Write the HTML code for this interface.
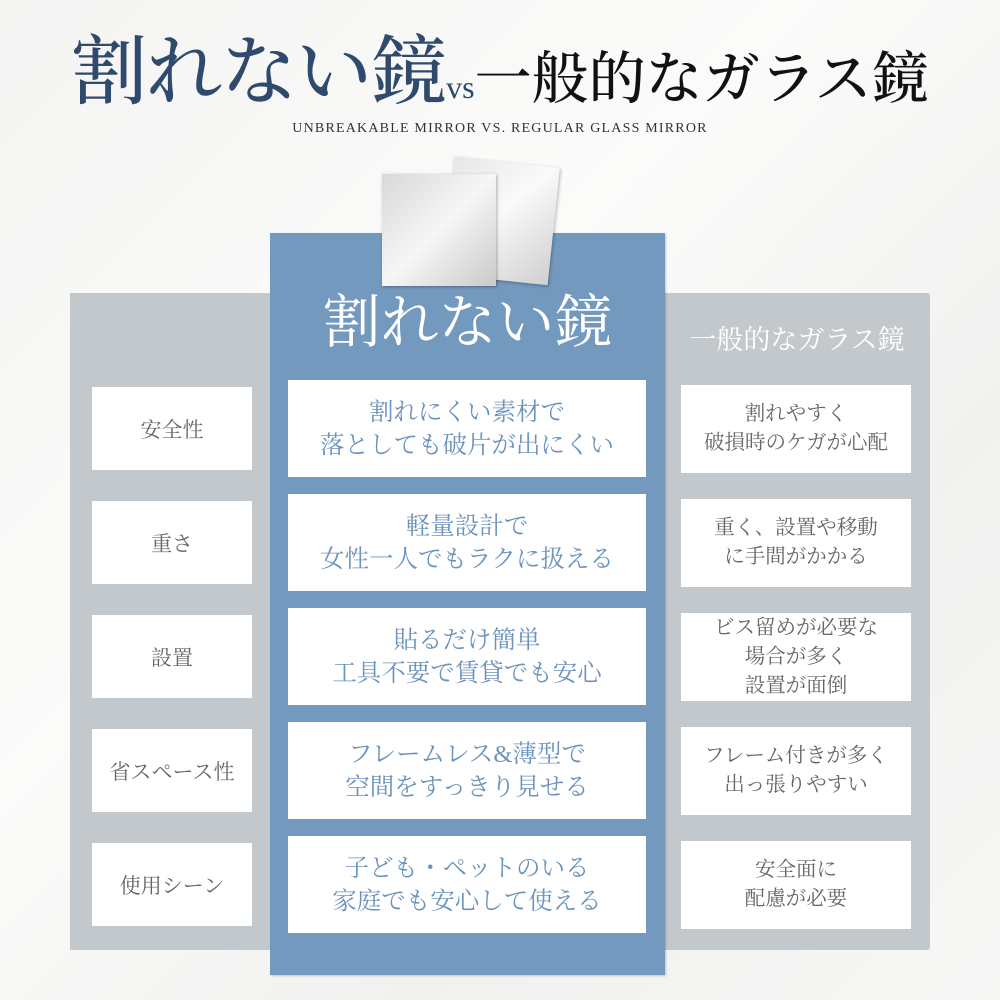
<!DOCTYPE html>
<html><head><meta charset="utf-8"><style>
*{margin:0;padding:0;box-sizing:border-box}
body{width:1000px;height:1000px;position:relative;overflow:hidden;background:linear-gradient(135deg,#f4f4f3,#fbfbfa 40%,#f1f1f0 70%,#f7f7f6);font-family:"Liberation Serif","Noto Serif CJK SC",serif}
.a{position:absolute}
.t{display:flex;align-items:center;justify-content:center;text-align:center;background:#fff}
.l{color:#666;font-size:21px}
.c{color:#6c93bb;font-size:24.5px;line-height:33px}
.r{color:#666;font-size:20.5px;line-height:29px}
</style></head><body>
<div class="a" style="left:0;top:28px;width:1000px;text-align:center;white-space:nowrap;line-height:90px;font-weight:500"><span style="color:#2f4a6c;font-size:76px;letter-spacing:-1px">割れない鏡</span><span style="font-size:32px;color:#2f4a6c">vs</span><span style="color:#111;font-size:57px">一般的なガラス鏡</span></div>
<div class="a" style="left:0;top:121px;width:1000px;text-align:center;font-size:14px;letter-spacing:1.2px;color:#333">UNBREAKABLE MIRROR VS. REGULAR GLASS MIRROR</div>
<div class="a" style="left:70px;top:293px;width:200px;height:657px;background:#c3c8cd"></div>
<div class="a" style="left:664px;top:293px;width:266px;height:657px;background:#c3c8cd;border-radius:0 3px 3px 0"></div>
<div class="a" style="left:270px;top:233px;width:395px;height:742px;background:#7399be;box-shadow:1px 1px 2px rgba(0,0,0,.2)"></div>
<div class="a" style="left:448px;top:162px;width:106px;height:118px;background:linear-gradient(135deg,#e6e6e6,#fafafa 45%,#cfcfcf);transform:rotate(6deg);box-shadow:1px 1px 3px rgba(0,0,0,.3)"></div>
<div class="a" style="left:382px;top:174px;width:114px;height:112px;background:linear-gradient(135deg,#d8d8d8,#f6f6f6 50%,#c9c9c9);box-shadow:1px 1px 3px rgba(0,0,0,.3)"></div>
<div class="a" style="left:270px;top:288px;width:395px;text-align:center;color:#fff;font-size:58px;line-height:70px">割れない鏡</div>
<div class="a" style="left:664px;top:320px;width:266px;text-align:center;color:#fff;font-size:27px;line-height:40px">一般的なガラス鏡</div>

<div class="a t l" style="left:92px;top:387px;width:160px;height:83px">安全性</div>
<div class="a t l" style="left:92px;top:501px;width:160px;height:83px">重さ</div>
<div class="a t l" style="left:92px;top:615px;width:160px;height:83px">設置</div>
<div class="a t l" style="left:92px;top:729px;width:160px;height:83px">省スペース性</div>
<div class="a t l" style="left:92px;top:843px;width:160px;height:83px">使用シーン</div>

<div class="a t c" style="left:288px;top:380px;width:358px;height:97px">割れにくい素材で<br>落としても破片が出にくい</div>
<div class="a t c" style="left:288px;top:494px;width:358px;height:97px">軽量設計で<br>女性一人でもラクに扱える</div>
<div class="a t c" style="left:288px;top:608px;width:358px;height:97px">貼るだけ簡単<br>工具不要で賃貸でも安心</div>
<div class="a t c" style="left:288px;top:722px;width:358px;height:97px">フレームレス&amp;薄型で<br>空間をすっきり見せる</div>
<div class="a t c" style="left:288px;top:836px;width:358px;height:97px">子ども・ペットのいる<br>家庭でも安心して使える</div>

<div class="a t r" style="left:681px;top:385px;width:230px;height:88px">割れやすく<br>破損時のケガが心配</div>
<div class="a t r" style="left:681px;top:499px;width:230px;height:88px">重く、設置や移動<br>に手間がかかる</div>
<div class="a t r" style="left:681px;top:613px;width:230px;height:88px">ビス留めが必要な<br>場合が多く<br>設置が面倒</div>
<div class="a t r" style="left:681px;top:727px;width:230px;height:88px">フレーム付きが多く<br>出っ張りやすい</div>
<div class="a t r" style="left:681px;top:841px;width:230px;height:88px">安全面に<br>配慮が必要</div>
</body></html>
